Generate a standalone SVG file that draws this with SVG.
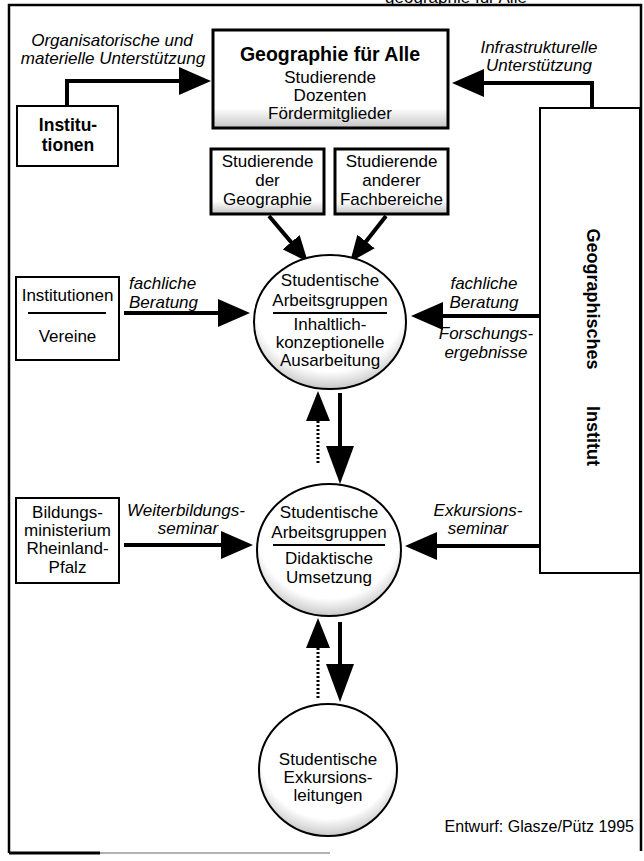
<svg xmlns="http://www.w3.org/2000/svg" width="644" height="861" viewBox="0 0 644 861">
<style>
.t{font-family:"Liberation Sans",Arial,sans-serif;font-size:17px;text-anchor:middle;fill:#000}
.b{font-weight:bold}
.i{font-style:italic}
.box{fill:url(#gv);stroke:#000;stroke-width:3}
.pl{fill:#fff;stroke:#000;stroke-width:2}
.circ{fill:url(#gc);stroke:#000;stroke-width:2}
.sep{stroke:#000;stroke-width:2}
.ln{stroke:#000;stroke-width:4;fill:none}
.dot{stroke:#000;stroke-width:3;stroke-dasharray:2 2;fill:none}
.fr{stroke:#000;stroke-width:2.5;fill:none}
</style>
<defs>
<linearGradient id="gv" x1="0" y1="0" x2="0" y2="1"><stop offset="0" stop-color="#fff"/><stop offset="0.8" stop-color="#fff"/><stop offset="1" stop-color="#c4c4c4"/></linearGradient>
<radialGradient id="gc" cx="0.5" cy="0.38" r="0.66"><stop offset="0" stop-color="#fff"/><stop offset="0.74" stop-color="#fff"/><stop offset="1" stop-color="#b8b8b8"/></radialGradient>
<marker id="ah" markerUnits="userSpaceOnUse" viewBox="0 0 32 28" refX="22" refY="14" markerWidth="32" markerHeight="28" orient="auto"><path d="M0,0 L32,14 L0,28 Z"/></marker>
<marker id="ahv" markerUnits="userSpaceOnUse" viewBox="0 0 38 28" refX="28" refY="14" markerWidth="38" markerHeight="28" orient="auto"><path d="M0,0 L38,14 L0,28 Z"/></marker>
<marker id="ahd" markerUnits="userSpaceOnUse" viewBox="0 0 26 22" refX="16" refY="11" markerWidth="26" markerHeight="22" orient="auto"><path d="M0,0 L26,11 L0,22 Z"/></marker>
<marker id="aho" markerUnits="userSpaceOnUse" viewBox="0 0 30 24" refX="20" refY="12" markerWidth="30" markerHeight="24" orient="auto"><path d="M0,0 L30,12 L0,24 Z"/></marker>
</defs>
<rect width="644" height="861" fill="#fff"/>
<text class="t" x="456" y="3">geographie für Alle</text>
<g id="frame">
<path class="fr" d="M9,853 V5 H641 V851"/>
<path d="M9,853 H100" stroke="#000" stroke-width="3"/>
<path d="M100,853 H330" stroke="#999" stroke-width="1.5"/>
</g>
<g id="connectors">
<path class="ln" d="M67,106 V81 H201" marker-end="url(#ah)"/>
<path class="ln" d="M592,108 V83 H462" marker-end="url(#ah)"/>
<path class="ln" d="M269,216 L301.5,254.4" marker-end="url(#ahd)"/>
<path class="ln" d="M386,216 L356.2,254.1" marker-end="url(#ahd)"/>
<path class="ln" d="M124,313 H240" marker-end="url(#ah)"/>
<path class="ln" d="M540,316 H421" marker-end="url(#ah)"/>
<path class="ln" d="M340,393 V474" marker-end="url(#ahv)"/>
<path class="dot" d="M318,463 V401" marker-end="url(#aho)"/>
<path class="ln" d="M124,545 H243" marker-end="url(#ah)"/>
<path class="ln" d="M540,546 H415" marker-end="url(#ah)"/>
<path class="ln" d="M340,622 V692" marker-end="url(#ahv)"/>
<path class="dot" d="M318,698 V628" marker-end="url(#aho)"/>
</g>
<g id="labels">
<text class="t i" x="112" y="46">Organisatorische und</text>
<text class="t i" x="113" y="64">materielle Unterstützung</text>
<text class="t i" x="539" y="53">Infrastrukturelle</text>
<text class="t i" x="539" y="71">Unterstützung</text>
<text class="t i" x="129" y="289" style="text-anchor:start">fachliche</text>
<text class="t i" x="129" y="308" style="text-anchor:start">Beratung</text>
<text class="t i" x="484" y="289">fachliche</text>
<text class="t i" x="484" y="308">Beratung</text>
<text class="t i" x="486" y="339">Forschungs-</text>
<text class="t i" x="486" y="358">ergebnisse</text>
<text class="t i" x="186" y="516">Weiterbildungs-</text>
<text class="t i" x="188" y="534">seminar</text>
<text class="t i" x="478" y="516">Exkursions-</text>
<text class="t i" x="478" y="534">seminar</text>
</g>
<g id="geographie-fuer-alle">
<rect class="box" x="213" y="30" width="235" height="98"/>
<text class="t b" x="330" y="61" style="font-size:19.5px">Geographie für Alle</text>
<text class="t" x="330" y="83">Studierende</text>
<text class="t" x="330" y="101">Dozenten</text>
<text class="t" x="330" y="119">Fördermitglieder</text>
</g>
<g id="institutionen">
<rect class="pl" x="17" y="106" width="101" height="60"/>
<text class="t b" x="68" y="131" style="font-size:17.5px">Institu-</text>
<text class="t b" x="68" y="151" style="font-size:17.5px">tionen</text>
</g>
<g id="studierende-geographie">
<rect class="box" x="211" y="149" width="113" height="65"/>
<text class="t" x="267.5" y="167">Studierende</text>
<text class="t" x="267.5" y="186">der</text>
<text class="t" x="267.5" y="205">Geographie</text>
</g>
<g id="studierende-andere">
<rect class="box" x="335" y="149" width="113" height="65"/>
<text class="t" x="391.5" y="167">Studierende</text>
<text class="t" x="391.5" y="186">anderer</text>
<text class="t" x="391.5" y="205">Fachbereiche</text>
</g>
<g id="institutionen-vereine">
<rect class="pl" x="16" y="277" width="103" height="83"/>
<text class="t" x="67.5" y="301">Institutionen</text>
<line class="sep" x1="28" y1="313" x2="106" y2="313"/>
<text class="t" x="67.5" y="342">Vereine</text>
</g>
<g id="geographisches-institut">
<rect class="pl" x="540" y="108" width="100" height="465"/>
<text class="t b" transform="translate(587,299) rotate(90)" style="font-size:18px">Geographisches</text>
<text class="t b" transform="translate(587,436) rotate(90)" style="font-size:18px">Institut</text>
</g>
<g id="arbeitsgruppen-inhalt">
<ellipse class="circ" cx="330" cy="322" rx="76" ry="67"/>
<text class="t" x="330" y="286">Studentische</text>
<text class="t" x="330" y="306">Arbeitsgruppen</text>
<line class="sep" x1="273" y1="313" x2="387" y2="313"/>
<text class="t" x="330" y="330">Inhaltlich-</text>
<text class="t" x="330" y="348">konzeptionelle</text>
<text class="t" x="330" y="366">Ausarbeitung</text>
</g>
<g id="bildungsministerium">
<rect class="pl" x="16" y="498" width="103" height="85"/>
<text class="t" x="67.5" y="518">Bildungs-</text>
<text class="t" x="67.5" y="536">ministerium</text>
<text class="t" x="67.5" y="554">Rheinland-</text>
<text class="t" x="67.5" y="573">Pfalz</text>
</g>
<g id="arbeitsgruppen-didaktik">
<ellipse class="circ" cx="329" cy="550" rx="72" ry="66"/>
<text class="t" x="329" y="518">Studentische</text>
<text class="t" x="329" y="538">Arbeitsgruppen</text>
<line class="sep" x1="273" y1="545" x2="385" y2="545"/>
<text class="t" x="329" y="564">Didaktische</text>
<text class="t" x="329" y="583">Umsetzung</text>
</g>
<g id="exkursionsleitungen">
<ellipse class="circ" cx="328" cy="770" rx="69" ry="66"/>
<text class="t" x="328" y="765">Studentische</text>
<text class="t" x="328" y="783">Exkursions-</text>
<text class="t" x="328" y="801">leitungen</text>
</g>
<text class="t" x="634" y="832" style="text-anchor:end;font-size:16px">Entwurf: Glasze/Pütz 1995</text>
</svg>
